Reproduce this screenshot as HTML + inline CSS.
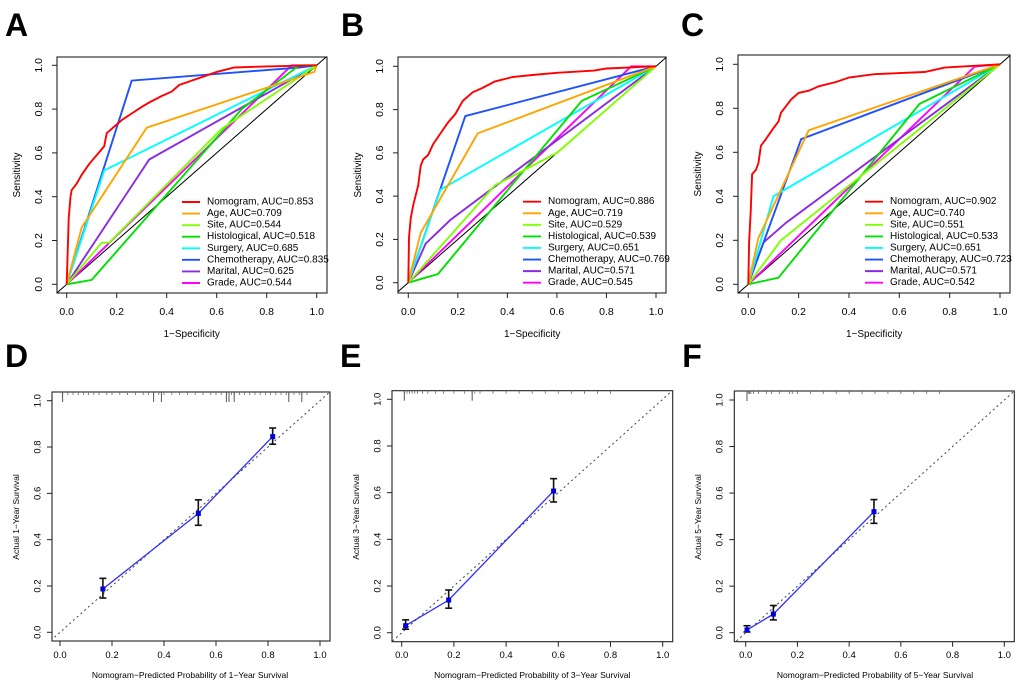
<!DOCTYPE html>
<html><head><meta charset="utf-8"><style>
html,body{margin:0;padding:0;background:#fff;}
svg{display:block;font-family:"Liberation Sans",Arial,sans-serif;}
</style></head><body>
<svg id="fig" width="1020" height="686" viewBox="0 0 1020 686" xmlns="http://www.w3.org/2000/svg"></svg>
<script>
// ---------- data ----------
const seriesNames = ["Nomogram","Age","Site","Histological","Surgery","Chemotherapy","Marital","Grade"];
const seriesColors = ["#ff0000","#ffa500","#7fff00","#00e000","#00ffff","#1e50ff","#8a2be2","#ff00ff"];
const aucA = ["0.853","0.709","0.544","0.518","0.685","0.835","0.625","0.544"];
const aucB = ["0.886","0.719","0.529","0.539","0.651","0.769","0.571","0.545"];
const aucC = ["0.902","0.740","0.551","0.533","0.651","0.723","0.571","0.542"];
const tickLabels = ["0.0","0.2","0.4","0.6","0.8","1.0"];
const tickValues = [0,0.2,0.4,0.6,0.8,1.0];

const rocA = [
 [[0,0],[0.003,0.12],[0.008,0.3],[0.015,0.4],[0.02,0.43],[0.04,0.46],[0.06,0.5],[0.09,0.55],[0.12,0.59],[0.15,0.63],[0.16,0.69],[0.19,0.72],[0.22,0.75],[0.26,0.78],[0.3,0.81],[0.33,0.83],[0.38,0.86],[0.42,0.88],[0.45,0.91],[0.5,0.93],[0.55,0.95],[0.6,0.97],[0.67,0.99],[0.8,0.995],[1,1]],
 [[0,0],[0.06,0.26],[0.32,0.715],[0.99,0.97],[1,1]],
 [[0,0],[0.14,0.19],[0.17,0.19],[0.62,0.71],[1,1]],
 [[0,0],[0.1,0.02],[0.7,0.8],[0.93,1],[1,1]],
 [[0,0],[0.15,0.52],[1,1]],
 [[0,0],[0.26,0.93],[0.93,0.99],[1,1]],
 [[0,0],[0.33,0.57],[1,1]],
 [[0,0],[0.9,1],[1,1]]
];
const rocB = [
 [[0,0],[0.003,0.21],[0.01,0.3],[0.02,0.36],[0.04,0.45],[0.05,0.54],[0.06,0.57],[0.08,0.59],[0.1,0.64],[0.13,0.69],[0.16,0.74],[0.19,0.78],[0.22,0.84],[0.26,0.88],[0.3,0.9],[0.35,0.93],[0.42,0.95],[0.5,0.96],[0.6,0.97],[0.75,0.98],[0.8,0.99],[1,1]],
 [[0,0],[0.05,0.23],[0.28,0.69],[1,1]],
 [[0,0],[0.35,0.45],[0.6,0.6],[1,1]],
 [[0,0],[0.12,0.04],[0.7,0.84],[1,1]],
 [[0,0],[0.13,0.43],[1,1]],
 [[0,0],[0.23,0.77],[1,1]],
 [[0,0],[0.07,0.18],[0.17,0.29],[1,1]],
 [[0,0],[0.9,1],[1,1]]
];
const rocC = [
 [[0,0],[0.003,0.19],[0.01,0.34],[0.015,0.5],[0.03,0.52],[0.04,0.55],[0.05,0.63],[0.07,0.66],[0.1,0.71],[0.12,0.74],[0.13,0.78],[0.15,0.81],[0.17,0.84],[0.2,0.87],[0.24,0.88],[0.28,0.9],[0.35,0.92],[0.4,0.94],[0.5,0.955],[0.6,0.96],[0.7,0.965],[0.78,0.985],[1,1]],
 [[0,0],[0.04,0.21],[0.24,0.7],[1,1]],
 [[0,0],[0.13,0.2],[1,1]],
 [[0,0],[0.12,0.03],[0.68,0.82],[1,1]],
 [[0,0],[0.1,0.4],[1,1]],
 [[0,0],[0.21,0.66],[1,1]],
 [[0,0],[0.06,0.19],[0.15,0.28],[1,1]],
 [[0,0],[0.9,0.99],[1,1]]
];

const calD_x = [0.165,0.532,0.818], calD_y = [0.187,0.513,0.845], calD_lo = [0.148,0.462,0.812], calD_hi = [0.233,0.572,0.882];
const calE_x = [0.015,0.18,0.582],  calE_y = [0.03,0.14,0.607],   calE_lo = [0.015,0.105,0.56],  calE_hi = [0.055,0.183,0.66];
const calF_x = [0.005,0.107,0.496], calF_y = [0.012,0.08,0.52],   calF_lo = [0.003,0.055,0.47],  calF_hi = [0.03,0.117,0.572];
const rugD = [0.01,0.03,0.05,0.07,0.09,0.11,0.13,0.15,0.18,0.2,0.23,0.26,0.29,0.32,0.34,0.36,0.38,0.4,0.43,0.46,0.49,0.52,0.55,0.58,0.6,0.62,0.64,0.65,0.66,0.67,0.69,0.71,0.73,0.75,0.77,0.79,0.81,0.83,0.85,0.87,0.88,0.9,0.92,0.93,0.95];
const rugDlong = [0.01,0.36,0.39,0.64,0.65,0.67,0.88,0.93];
const rugE = [0.01,0.02,0.03,0.04,0.05,0.06,0.08,0.1,0.13,0.16,0.2,0.24,0.27,0.28,0.3,0.35,0.4,0.45,0.5,0.55,0.6,0.65,0.7,0.75,0.8];
const rugElong = [0.01,0.27];
const rugF = [0.005,0.01,0.015,0.02,0.03,0.05,0.08,0.1,0.13,0.17,0.18,0.2,0.25,0.3,0.35,0.4,0.45,0.5,0.55,0.6,0.65,0.7,0.75];
const rugFlong = [0.005];

// ---------- drawing ----------
const NS = "http://www.w3.org/2000/svg";
const svg = document.getElementById("fig");
function mk(tag, attrs, parent){
  const e = document.createElementNS(NS, tag);
  for (const k in attrs) e.setAttribute(k, attrs[k]);
  (parent||svg).appendChild(e);
  return e;
}
function txt(s, x, y, size, opts, parent){
  const e = mk("text", Object.assign({x:x, y:y, "font-size":size, "text-anchor":"middle", fill:"#000"}, opts||{}), parent);
  e.textContent = s;
  return e;
}

function axes(g, L){
  const sx = v => L.x0 + v*(L.x1-L.x0);
  const sy = v => L.y0 + v*(L.y1-L.y0);
  const box = mk("rect", {x:L.bx0, y:L.by0, width:L.bx1-L.bx0, height:L.by1-L.by0, fill:"none", stroke:"#222", "stroke-width":1.1}, g);
  
  
  const xa = mk("g", {}, g);
  
  
  const ya = mk("g", {}, g);
  
  
  tickValues.forEach((v,i)=>{
    const x = sx(v);
    mk("line", {x1:x, x2:x, y1:L.by1, y2:L.by1+5, stroke:"#222"}, xa);
    const t = txt(tickLabels[i], x, L.xlabY, L.tick, {}, xa);
    
    
    const y = sy(v);
    mk("line", {x1:L.bx0-5, x2:L.bx0, y1:y, y2:y, stroke:"#222"}, ya);
    const t2 = txt(tickLabels[i], L.ylabX, y, L.tick, {transform:`rotate(-90 ${L.ylabX} ${y})`, "dominant-baseline":"central"}, ya);
    
    
  });
  return {sx, sy};
}

function rocPanel(letter, L, data, aucs){
  const g = mk("g", {});
  
  
  const pl = txt(letter, L.bx0 - L.letterDx, 36, 32, {"font-weight":"bold", "text-anchor":"start"}, g);
  
  
  const {sx, sy} = axes(g, L);
  const clip = "clip" + letter;
  const cp = mk("clipPath", {id:clip}, g);
  mk("rect", {x:L.bx0, y:L.by0, width:L.bx1-L.bx0, height:L.by1-L.by0}, cp);
  const diag = mk("line", {x1:sx(-0.05), y1:sy(-0.05), x2:sx(1.05), y2:sy(1.05), stroke:"#000", "stroke-width":1, "clip-path":`url(#${clip})`}, g);
  
  
  for (let i = data.length-1; i >= 0; i--){
    const pts = data[i].map(p => sx(p[0]).toFixed(1)+","+sy(p[1]).toFixed(1)).join(" ");
    const pl2 = mk("polyline", {points:pts, fill:"none", stroke:seriesColors[i], "stroke-width":1.9}, g);
    
    
  }
  const leg = mk("g", {}, g);
  
  
  seriesNames.forEach((n,i)=>{
    const y = L.legY + i*11.57;
    const en = mk("g", {}, leg);
    
    
    mk("line", {x1:L.legX, x2:L.legX+18, y1:y, y2:y, stroke:seriesColors[i], "stroke-width":1.9}, en);
    txt(n + ", AUC=" + aucs[i], L.legX+25, y, 10, {"text-anchor":"start", "dominant-baseline":"central"}, en);
  });
  const xt = txt("1\u2212Specificity", (L.x0+L.x1)/2, 337, 10, {}, g);
  
  
  const cy = (L.by0+L.by1)/2;
  const yt = txt("Sensitivity", L.ytitleX, cy, 10, {transform:`rotate(-90 ${L.ytitleX} ${cy})`}, g);
  
  
}

function calPanel(letter, L, xs, ys, lo, hi, rug, rugLong, yr){
  const g = mk("g", {});
  
  
  const pl = txt(letter, L.bx0 - L.letterDx, 367, 32, {"font-weight":"bold", "text-anchor":"start"}, g);
  
  
  const {sx, sy} = axes(g, L);
  const clip = "clip" + letter;
  const cp = mk("clipPath", {id:clip}, g);
  mk("rect", {x:L.bx0, y:L.by0, width:L.bx1-L.bx0, height:L.by1-L.by0}, cp);
  const diag = mk("line", {x1:sx(-0.05), y1:sy(-0.05), x2:sx(1.05), y2:sy(1.05), stroke:"#444", "stroke-width":1, "stroke-dasharray":"2,3", "clip-path":`url(#${clip})`}, g);
  
  
  const rg = mk("g", {}, g);
  
  
  rug.forEach(v => mk("line", {x1:sx(v), x2:sx(v), y1:L.by0, y2:L.by0+3, stroke:"#666", "stroke-width":0.8}, rg));
  rugLong.forEach(v => mk("line", {x1:sx(v), x2:sx(v), y1:L.by0, y2:L.by0+10, stroke:"#555", "stroke-width":1}, rg));
  const pts = xs.map((x,i)=> sx(x).toFixed(1)+","+sy(ys[i]).toFixed(1)).join(" ");
  const line = mk("polyline", {points:pts, fill:"none", stroke:"#3030ff", "stroke-width":1.3}, g);
  
  
  xs.forEach((x,i)=>{
    const X = sx(x);
    const eb = mk("g", {}, g);
    
    
    mk("line", {x1:X, x2:X, y1:sy(lo[i]), y2:sy(hi[i]), stroke:"#111", "stroke-width":1.6}, eb);
    mk("line", {x1:X-3.5, x2:X+3.5, y1:sy(lo[i]), y2:sy(lo[i]), stroke:"#111", "stroke-width":1.6}, eb);
    mk("line", {x1:X-3.5, x2:X+3.5, y1:sy(hi[i]), y2:sy(hi[i]), stroke:"#111", "stroke-width":1.6}, eb);
    const p = mk("rect", {x:X-2.5, y:sy(ys[i])-2.5, width:5, height:5, fill:"#0000dd"}, g);
    
    
  });
  const xt = txt("Nomogram\u2212Predicted Probability of " + yr + "\u2212Year Survival", (L.x0+L.x1)/2, 678, 8.5, {}, g);
  
  
  const cy = 517;
  const yt = txt("Actual " + yr + "\u2212Year Survival", L.ytitleX, cy, 8.5, {transform:`rotate(-90 ${L.ytitleX} ${cy})`}, g);
  
  
}

// layout (pixel geometry)
rocPanel("A", {bx0:57,bx1:327,by0:57,by1:293,x0:66.7,x1:316.7,y0:284.3,y1:65.3,xlabY:315,ylabX:39,ytitleX:20,tick:10.5,legX:182,legY:202,letterDx:52}, rocA, aucA);
rocPanel("B", {bx0:398,bx1:666,by0:57,by1:293,x0:408.3,x1:656,y0:282.7,y1:66.3,xlabY:315,ylabX:380,ytitleX:361,tick:10.5,legX:523,legY:201.7,letterDx:57}, rocB, aucB);
rocPanel("C", {bx0:738,bx1:1010,by0:55,by1:293,x0:748.3,x1:1000,y0:284.3,y1:64.3,xlabY:315,ylabX:720,ytitleX:701,tick:10.5,legX:865,legY:201.7,letterDx:57}, rocC, aucC);
calPanel("D", {bx0:52,bx1:330,by0:392,by1:641,x0:60,x1:320,y0:632.3,y1:400.7,xlabY:658,ylabX:38,ytitleX:19,tick:9.5,letterDx:47}, calD_x, calD_y, calD_lo, calD_hi, rugD, rugDlong, "1");
calPanel("E", {bx0:392,bx1:672.7,by0:390.7,by1:641.7,x0:401.7,x1:662.7,y0:632.7,y1:399.3,xlabY:658,ylabX:378,ytitleX:359,tick:9.5,letterDx:52}, calE_x, calE_y, calE_lo, calE_hi, rugE, rugElong, "3");
calPanel("F", {bx0:734.3,bx1:1014.3,by0:391,by1:641.7,x0:745.7,x1:1004.3,y0:632.7,y1:400,xlabY:658,ylabX:720,ytitleX:701,tick:9.5,letterDx:52}, calF_x, calF_y, calF_lo, calF_hi, rugF, rugFlong, "5");
</script>
</body></html>
